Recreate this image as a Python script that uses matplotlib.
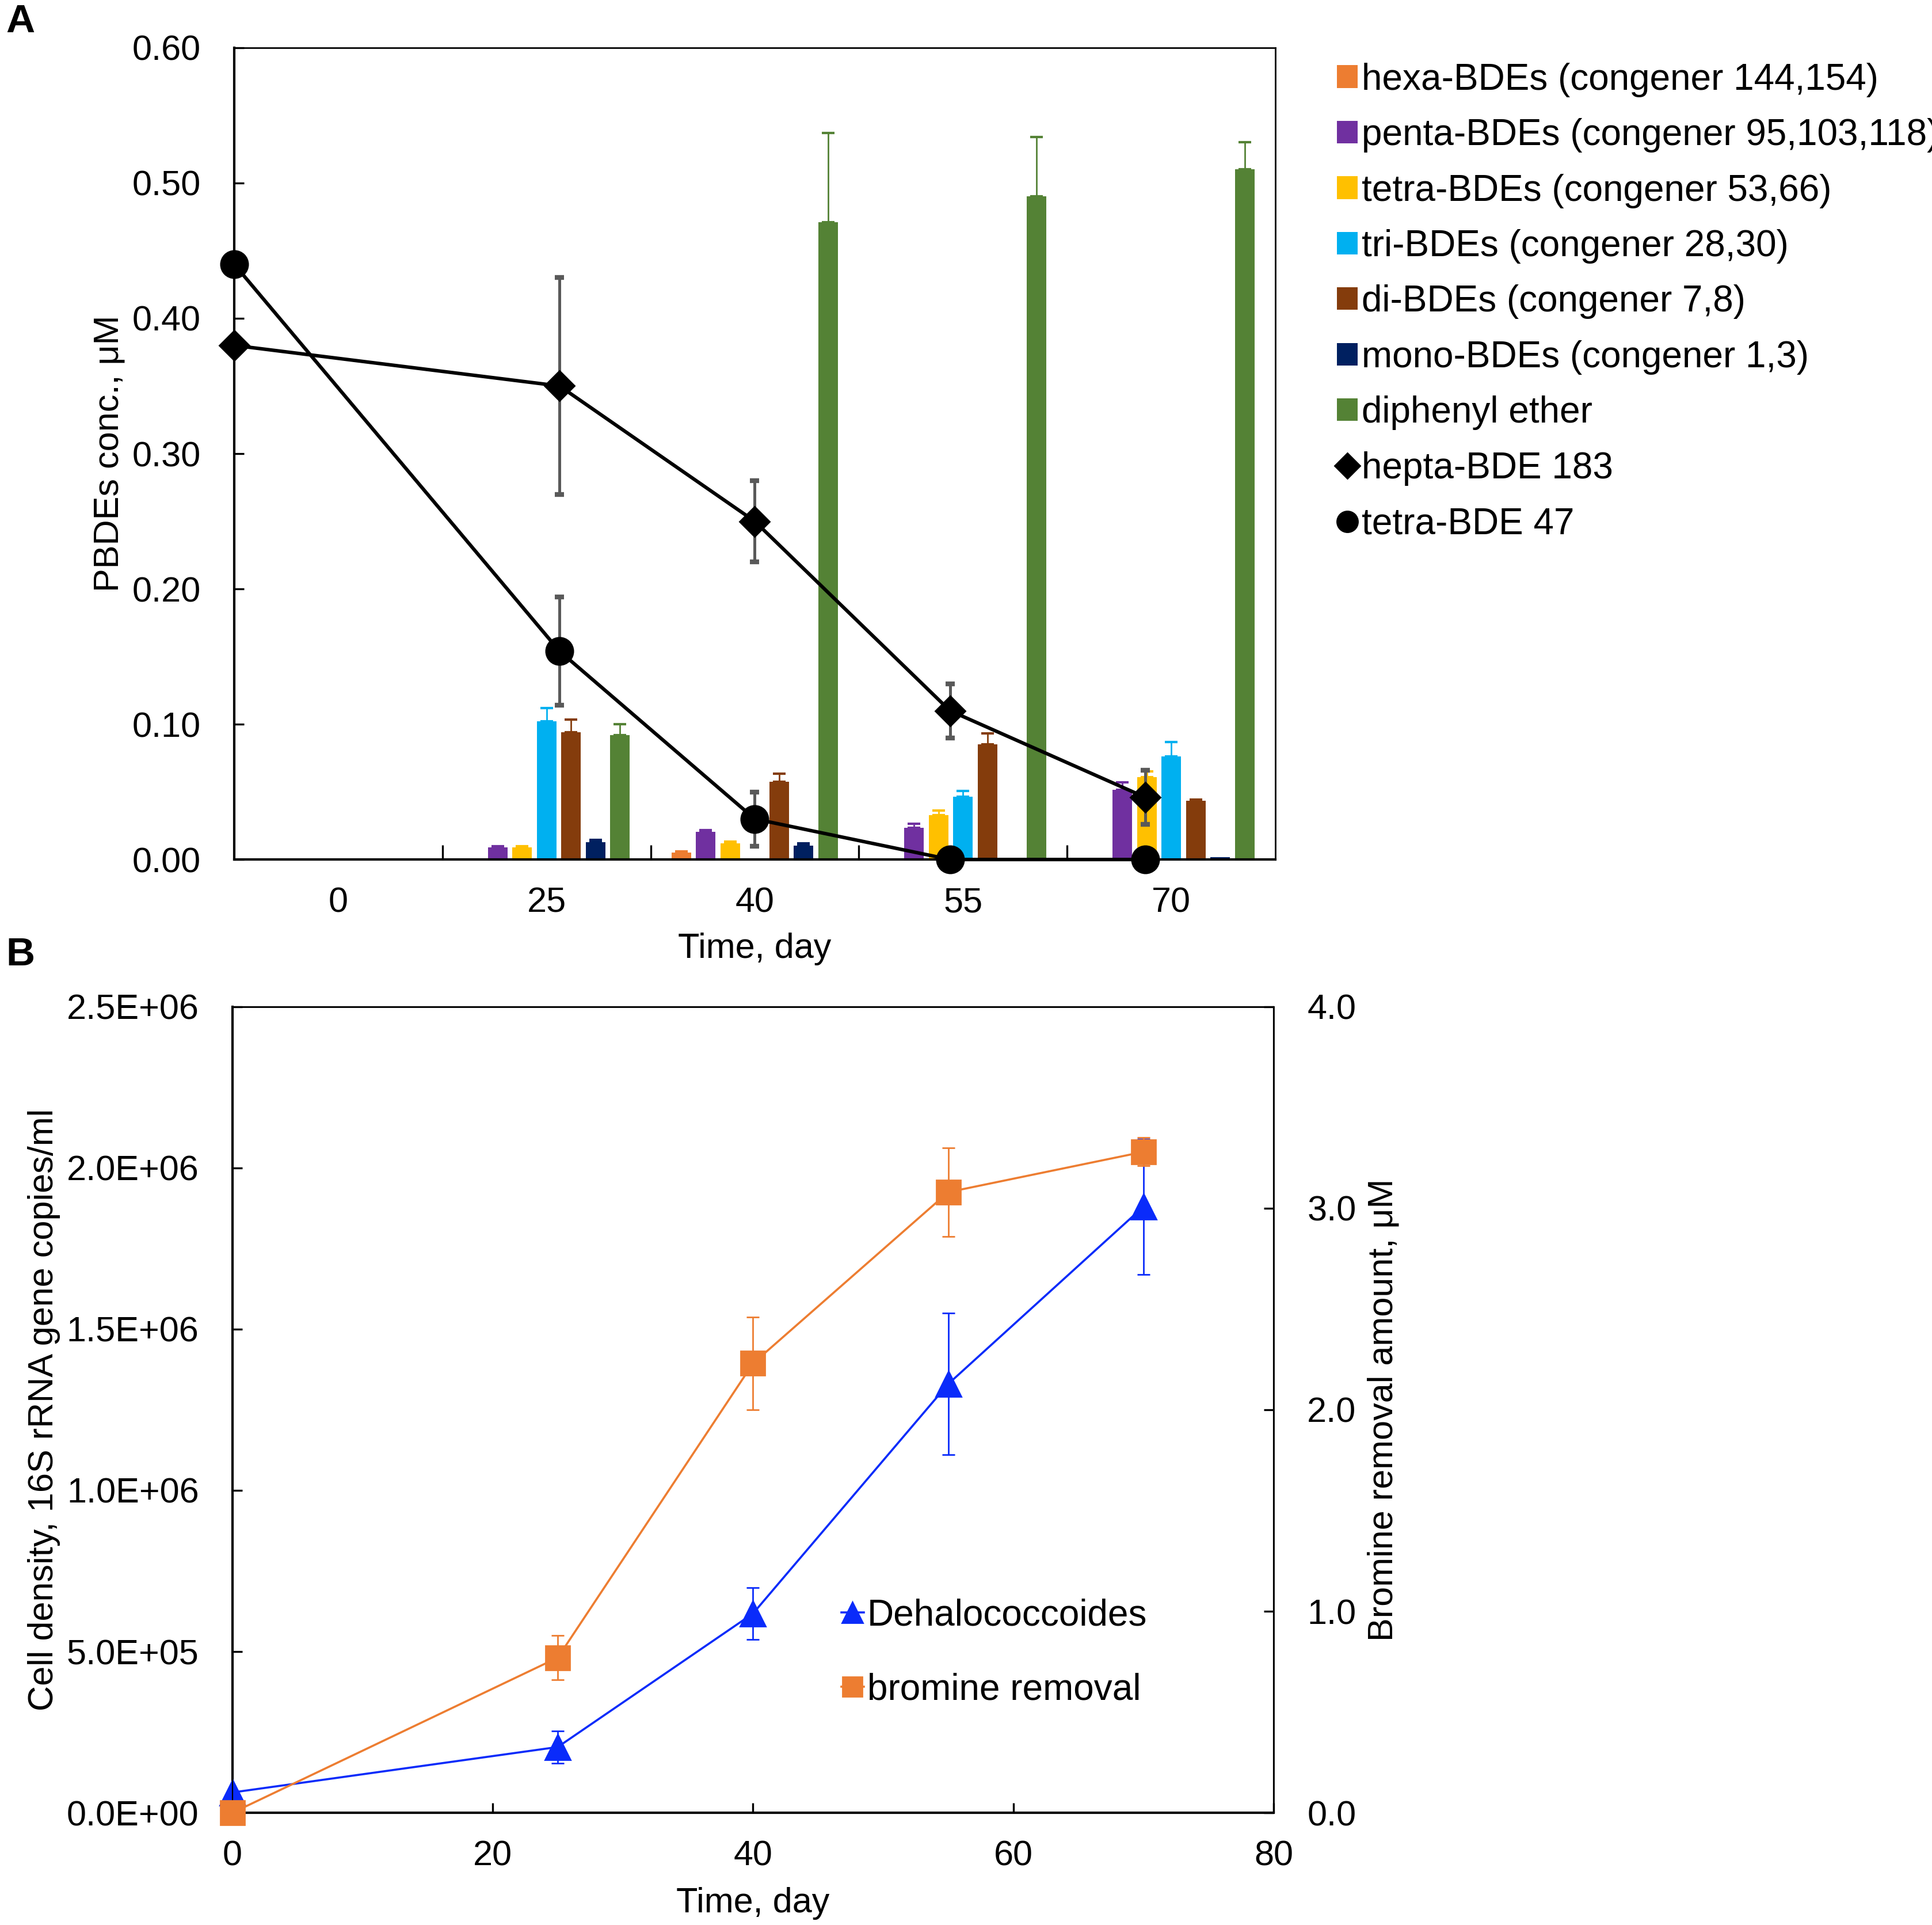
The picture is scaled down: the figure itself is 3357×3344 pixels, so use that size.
import matplotlib
matplotlib.use("Agg")
import matplotlib.pyplot as plt
from matplotlib.lines import Line2D
from matplotlib.patches import Patch
from matplotlib.ticker import FormatStrFormatter, FuncFormatter
import numpy as np

plt.rcParams['font.family'] = ['Liberation Sans', 'DejaVu Sans']

# ---------------- panel A data ----------------
days = [0, 25, 40, 55, 70]
day_labels = ['0', '25', '40', '55', '70']
group_names = ['hexa-BDEs (congener 144,154)', 'penta-BDEs (congener 95,103,118)',
               'tetra-BDEs (congener 53,66)', 'tri-BDEs (congener 28,30)',
               'di-BDEs (congener 7,8)', 'mono-BDEs (congener 1,3)', 'diphenyl ether']
group_colors = ['#ED7D31', '#7030A0', '#FFC000', '#00B0F0', '#843C0C', '#002060', '#548235']

hexa = [0.001, 0.001, 0.005, 0.001, 0.0006]
hexa_err = [0, 0, 0.0008, 0, 0]
penta = [0, 0.009, 0.0206, 0.0236, 0.0514]
penta_err = [0, 0.001, 0.0013, 0.003, 0.0056]
tetra = [0, 0.009, 0.012, 0.0329, 0.061]
tetra_err = [0, 0.001, 0.0014, 0.0035, 0.004]
tri = [0, 0.102, 0.001, 0.0464, 0.076]
tri_err = [0, 0.010, 0, 0.0043, 0.0107]
di = [0, 0.094, 0.0574, 0.085, 0.0436]
di_err = [0, 0.0096, 0.0059, 0.0083, 0.0007]
mono = [0, 0.013, 0.0104, 0, 0.0019]
mono_err = [0, 0.0014, 0.0015, 0, 0]
diphenyl = [0, 0.092, 0.471, 0.490, 0.510]
diphenyl_err = [0, 0.008, 0.066, 0.044, 0.020]

hepta183 = [0.38, 0.35, 0.25, 0.11, 0.046]
hepta183_err = [0, 0.08, 0.03, 0.02, 0.02]
tetra47 = [0.44, 0.154, 0.03, 0.0, 0.0]
tetra47_err = [0, 0.04, 0.02, 0, 0]

# ---------------- panel B data ----------------
time_b = [0, 25, 40, 55, 70]
dhc = [6.3e4, 2.04e5, 6.18e5, 1.33e6, 1.88e6]
dhc_err = [0, 5e4, 8e4, 2.2e5, 2.1e5]
bromine = [0, 0.77, 2.23, 3.08, 3.28]
bromine_err = [0, 0.11, 0.23, 0.22, 0.07]

FS = 22
LFS = 23
fig = plt.figure(figsize=(16.785, 16.72), dpi=200)

# ================= panel A =================
axA = fig.add_axes([0.1212, 0.5535, 0.5389, 0.4217])
xc = np.arange(len(days))
pitch = 0.1175
bw = 0.094
series = [hexa, penta, tetra, tri, di, mono, diphenyl]
series_err = [hexa_err, penta_err, tetra_err, tri_err, di_err, mono_err, diphenyl_err]
for i, (vals, err, col) in enumerate(zip(series, series_err, group_colors)):
    pos = xc + (i - 3) * pitch
    axA.bar(pos, vals, bw, color=col, zorder=2)
    err = np.array(err)
    vals = np.array(vals)
    m = err > 0
    axA.errorbar(pos[m], vals[m], yerr=[np.zeros(m.sum()), err[m]], fmt='none',
                 ecolor=col, elinewidth=1.0, capsize=4, capthick=1.5, zorder=2)

axA.set_xlim(-0.5, 4.5)
axA.set_ylim(0, 0.6)
axA.set_yticks(np.arange(0, 0.61, 0.1))
axA.yaxis.set_major_formatter(FormatStrFormatter('%.2f'))
axA.set_xticks(xc)
axA.set_xticklabels(day_labels)
axA.set_xticks(np.arange(0.5, 4, 1), minor=True)
axA.tick_params(axis='x', which='major', length=0, pad=17, labelsize=FS)
axA.tick_params(axis='x', which='minor', direction='in', length=9, width=1.2)
axA.tick_params(axis='y', direction='in', length=6, width=1.2, pad=21, labelsize=FS)
axA.set_xlabel('Time, day', fontsize=FS, labelpad=8)
axA.set_ylabel('PBDEs conc., μM', fontsize=FS, labelpad=4)
for s in ['left', 'bottom']:
    axA.spines[s].set_linewidth(1.5)
for s in ['top', 'right']:
    axA.spines[s].set_linewidth(1.0)

# lines drawn on a day scale 0-80 over the same box
axL = axA.twiny()
axL.set_xlim(0, 80)
axL.tick_params(axis='x', top=False, labeltop=False, bottom=False, labelbottom=False)
for s in axL.spines.values():
    s.set_visible(False)
axL.errorbar(days, hepta183, yerr=hepta183_err, color='black', marker='D', ms=13,
             lw=2.2, ecolor='#595959', elinewidth=1.8, capsize=3, capthick=3,
             clip_on=False, zorder=5)
axL.errorbar(days, tetra47, yerr=tetra47_err, color='black', marker='o', ms=17,
             lw=2.2, ecolor='#595959', elinewidth=1.8, capsize=3, capthick=3,
             clip_on=False, zorder=5)

handlesA = [Patch(facecolor=c, edgecolor='none') for c in group_colors]
handlesA += [Line2D([], [], color='black', marker='D', ms=11, ls='none'),
             Line2D([], [], color='black', marker='o', ms=13, ls='none')]
labelsA = group_names + ['hepta-BDE 183', 'tetra-BDE 47']
fig.legend(handlesA, labelsA, loc='upper left', bbox_to_anchor=(0.692, 0.9675),
           bbox_transform=fig.transFigure, frameon=False, fontsize=LFS,
           borderpad=0, borderaxespad=0, handlelength=0.57, handleheight=0.57,
           handletextpad=0.1, labelspacing=0.57)

# ================= panel B =================
axB = fig.add_axes([0.1203, 0.0583, 0.5389, 0.4187])
axB.set_xlim(0, 80)
axB.set_ylim(0, 2.5e6)
axB.set_xticks([0, 20, 40, 60, 80])
axB.set_yticks(np.arange(0, 2.51e6, 0.5e6))
axB.yaxis.set_major_formatter(FuncFormatter(lambda v, p: '%.1E' % v))
axB.tick_params(axis='x', direction='in', length=6, width=1.2, pad=17, labelsize=FS)
axB.tick_params(axis='y', direction='in', length=6, width=1.2, pad=21, labelsize=FS)
axB.set_xlabel('Time, day', fontsize=FS, labelpad=9)
axB.set_ylabel('Cell density, 16S rRNA gene copies/ml', fontsize=FS, labelpad=4)
for s in ['left', 'bottom']:
    axB.spines[s].set_linewidth(1.5)
for s in ['top', 'right']:
    axB.spines[s].set_linewidth(1.0)

axB.errorbar(time_b, dhc, yerr=dhc_err, color='#0A2BFA', marker='^', ms=16,
             lw=1.3, elinewidth=1.0, capsize=4, capthick=1.0, clip_on=False, zorder=5)

axR = axB.twinx()
axR.set_ylim(0, 4)
axR.set_yticks(np.arange(0, 4.01, 1))
axR.yaxis.set_major_formatter(FormatStrFormatter('%.1f'))
axR.tick_params(axis='y', direction='in', length=6, width=1.2, pad=21, labelsize=FS)
axR.set_ylabel('Bromine removal amount, μM', fontsize=FS, labelpad=7)
axR.errorbar(time_b, bromine, yerr=bromine_err, color='#ED7D31', marker='s', ms=15,
             lw=1.3, elinewidth=1.0, capsize=4, capthick=1.0, clip_on=False, zorder=5)

handlesB = [Line2D([], [], color='#0A2BFA', marker='^', ms=13, lw=1.3),
            Line2D([], [], color='#ED7D31', marker='s', ms=12, lw=1.3)]
axR.legend(handlesB, ['Dehalococcoides', 'bromine removal'], loc='upper left',
           bbox_to_anchor=(0.4356, 0.1696), bbox_transform=fig.transFigure,
           frameon=False, fontsize=LFS, borderpad=0, borderaxespad=0,
           handlelength=0.6, handletextpad=0.1, labelspacing=1.08)

# panel letters
fig.text(0.003, 0.9886, 'A', fontsize=25, fontweight='bold', va='center', ha='left')
fig.text(0.003, 0.504, 'B', fontsize=25, fontweight='bold', va='center', ha='left')

fig.savefig('out.png', dpi=200)
